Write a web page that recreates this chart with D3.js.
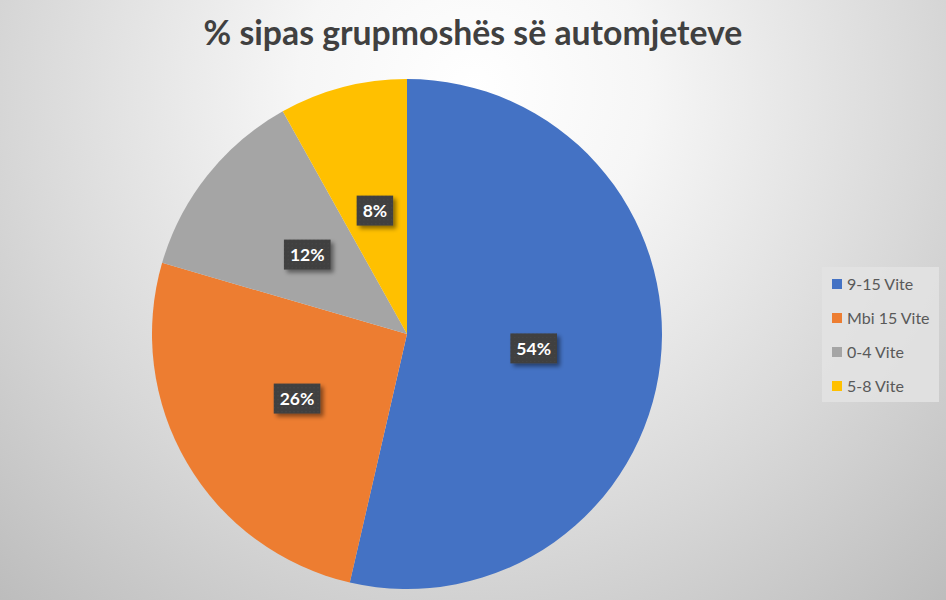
<!DOCTYPE html>
<html><head><meta charset="utf-8">
<script src="https://cdn.jsdelivr.net/npm/d3@7"></script>
<style>html,body{margin:0;padding:0;background:#fff;}svg{display:block;}</style>
</head><body>
<svg id="chart" width="946" height="600"></svg>
<script>
const titleText = "% sipas grupmoshës së automjeteve";
const categories = ["9-15 Vite", "Mbi 15 Vite", "0-4 Vite", "5-8 Vite"];
const values = [53.6, 25.9, 12.4, 8.1];
const labels = ["54%", "26%", "12%", "8%"];
const colors = ["#4472C4", "#ED7D31", "#A5A5A5", "#FFC000"];

const W = 946, H = 600;
const FONT = "Lato, 'Open Sans', sans-serif";
const svg = d3.select("#chart");
const defs = svg.append("defs");

const bg = defs.append("radialGradient").attr("id", "bg")
  .attr("gradientUnits", "userSpaceOnUse")
  .attr("cx", 473).attr("cy", 90).attr("r", 700);
bg.append("stop").attr("offset", "0").attr("stop-color", "#ffffff");
bg.append("stop").attr("offset", "0.25").attr("stop-color", "#f6f6f6");
bg.append("stop").attr("offset", "0.65").attr("stop-color", "#d8d8d8");
bg.append("stop").attr("offset", "1").attr("stop-color", "#bcbcbc");
svg.append("rect").attr("width", W).attr("height", H).attr("fill", "url(#bg)");

const pat = defs.append("pattern").attr("id", "dots")
  .attr("width", 4).attr("height", 4).attr("patternUnits", "userSpaceOnUse");
pat.append("rect").attr("width", 4).attr("height", 4).attr("fill", "#3f3f3f");
pat.append("circle").attr("cx", 1).attr("cy", 1).attr("r", 0.6).attr("fill", "#555555");

const sh = defs.append("filter").attr("id", "shadow")
  .attr("x", "-30%").attr("y", "-30%").attr("width", "170%").attr("height", "170%");
sh.append("feDropShadow").attr("dx", 3).attr("dy", 3).attr("stdDeviation", 2.2)
  .attr("flood-color", "#000").attr("flood-opacity", 0.45);

// Title
const title = svg.append("text")
  .attr("x", 473).attr("y", 45)
  .attr("text-anchor", "middle")
  .attr("font-family", FONT)
  .attr("font-weight", "bold")
  .attr("font-size", 30)
  .attr("fill", "#404040")
  .text(titleText);
const tw = title.node().getComputedTextLength();
title.attr("font-size", 30 * 539 / tw);

// Pie
const cx = 407, cy = 334, R = 255;
const pie = d3.pie().sort(null).value(d => d)(values);
const arc = d3.arc().innerRadius(0).outerRadius(R);
const labelArc = d3.arc().innerRadius(R * 0.5).outerRadius(R * 0.5);
const g = svg.append("g").attr("transform", `translate(${cx},${cy})`);
g.selectAll("path.slice").data(pie).join("path")
  .attr("class", "slice")
  .attr("d", arc)
  .attr("fill", (d, i) => colors[i]);

// Data labels
const lg = g.selectAll("g.lbl").data(pie).join("g")
  .attr("class", "lbl")
  .attr("transform", d => `translate(${labelArc.centroid(d)})`);
lg.each(function (d, i) {
  const sel = d3.select(this);
  const t = sel.append("text")
    .attr("text-anchor", "middle")
    .attr("dy", "0.36em")
    .attr("font-family", FONT)
    .attr("font-weight", "bold")
    .attr("font-size", 17.5)
    .attr("fill", "#ffffff")
    .text(labels[i]);
  const w = t.node().getComputedTextLength();
  const bw = w + 12, bh = 30;
  sel.insert("rect", "text")
    .attr("x", -bw / 2).attr("y", -bh / 2)
    .attr("width", bw).attr("height", bh)
    .attr("fill", "url(#dots)")
    .attr("filter", "url(#shadow)");
});

// Legend
const lx = 822, ly = 267;
svg.append("rect").attr("x", lx).attr("y", ly).attr("width", 117).attr("height", 135)
  .attr("fill", "#e3e3e3").attr("fill-opacity", 0.85);
const legend = svg.append("g");
const li = legend.selectAll("g").data(categories).join("g")
  .attr("transform", (d, i) => `translate(${832},${284 + i * 34})`);
li.append("rect").attr("x", 0).attr("y", -5).attr("width", 10).attr("height", 10)
  .attr("fill", (d, i) => colors[i]);
li.append("text").attr("x", 15).attr("dy", "0.36em")
  .attr("font-family", FONT)
  .attr("font-size", 16)
  .attr("fill", "#595959")
  .text(d => d);
</script>
</body></html>
